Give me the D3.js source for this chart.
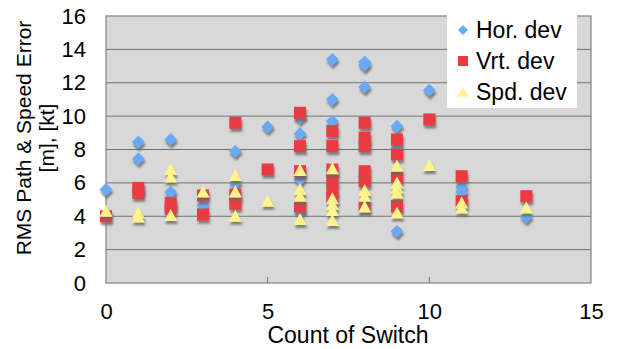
<!DOCTYPE html>
<html>
<head>
<meta charset="utf-8">
<script src="https://cdn.jsdelivr.net/npm/d3@7"></script>
<style>
    body { margin: 0; background: #fff; }
    text { font-family: "Liberation Sans", Arial, sans-serif; fill: #000; }
</style>
</head>
<body>
<div id="chart"></div>
<script>
// Hor. dev (diamonds)
const horX = [0, 1, 1, 2, 2, 3, 4, 4, 5, 6, 6, 6, 6, 7, 7, 7, 8, 8, 8, 9, 9, 9, 10, 11, 11, 13];
const horY = [5.6, 8.45, 7.45, 8.6, 5.45, 4.65, 7.9, 6.0, 9.35, 9.9, 8.95, 6.2, 4.3, 13.4, 11.0, 9.7, 13.25, 13.05, 11.75, 9.4, 8.1, 3.1, 11.55, 5.75, 5.45, 3.95];

// Vrt. dev (squares)
const vrtX = [0, 1, 1, 2, 2, 3, 3, 4, 4, 4, 5, 6, 6, 6, 6, 7, 7, 7, 7, 7, 7, 8, 8, 8, 8, 8, 8, 9, 9, 9, 9, 10, 11, 11, 13];
const vrtY = [4.0, 5.7, 5.4, 4.8, 4.45, 5.25, 4.1, 9.6, 5.3, 4.75, 6.8, 10.2, 8.2, 6.7, 4.6, 9.1, 8.2, 6.8, 6.2, 5.6, 5.1, 9.6, 8.7, 8.2, 6.7, 6.1, 4.6, 8.6, 7.7, 6.35, 4.6, 9.8, 6.4, 4.9, 5.2];

// Spd. dev (triangles)
const spdX = [0, 1, 1, 2, 2, 2, 3, 4, 4, 4, 5, 6, 6, 6, 6, 7, 7, 7, 7, 7, 8, 8, 8, 9, 9, 9, 9, 9, 10, 11, 11, 13];
const spdY = [4.3, 4.2, 3.95, 6.8, 6.35, 4.05, 5.45, 6.45, 5.45, 4.0, 4.9, 6.75, 5.6, 5.2, 3.8, 6.85, 5.05, 4.7, 4.35, 3.75, 5.55, 5.2, 4.55, 7.0, 6.0, 5.7, 5.4, 4.2, 7.05, 4.8, 4.5, 4.5];

const seriesNames = ["Hor. dev", "Vrt. dev", "Spd. dev"];
const seriesColors = ["#6aaaf4", "#e83a42", "#fff38c"];
const xTicks = [0, 5, 10, 15];
const yTicks = [0, 2, 4, 6, 8, 10, 12, 14, 16];

const width = 617;
const height = 349;
const plot = { left: 106, right: 591, top: 16, bottom: 283 };

const x = d3.scaleLinear().domain([0, 15]).range([plot.left, plot.right]);
const y = d3.scaleLinear().domain([0, 16]).range([plot.bottom, plot.top]);

const svg = d3.select("#chart")
    .append("svg")
    .attr("width", width)
    .attr("height", height);

// bóng đổ cho marker
const defs = svg.append("defs");
const shadow = defs.append("filter")
    .attr("id", "shadow")
    .attr("x", "-50%").attr("y", "-50%")
    .attr("width", "200%").attr("height", "200%");
shadow.append("feDropShadow")
    .attr("dx", 1)
    .attr("dy", 3)
    .attr("stdDeviation", 0.8)
    .attr("flood-color", "#666")
    .attr("flood-opacity", 0.8);

// nền vùng vẽ
svg.append("rect")
    .attr("x", plot.left)
    .attr("y", plot.top)
    .attr("width", plot.right - plot.left)
    .attr("height", plot.bottom - plot.top)
    .attr("fill", "#d8d8d8");

// lưới ngang
svg.append("g")
    .selectAll("line")
    .data(yTicks.filter(d => d > 0 && d < 16))
    .join("line")
    .attr("x1", plot.left)
    .attr("x2", plot.right)
    .attr("y1", d => y(d))
    .attr("y2", d => y(d))
    .attr("stroke", "#707070")
    .attr("stroke-width", 1);

// khung
svg.append("rect")
    .attr("x", plot.left)
    .attr("y", plot.top)
    .attr("width", plot.right - plot.left)
    .attr("height", plot.bottom - plot.top)
    .attr("fill", "none")
    .attr("stroke", "#8a8a8a")
    .attr("stroke-width", 1.3);

// vạch chia trục x (hướng vào trong)
svg.append("g")
    .selectAll("line")
    .data(xTicks.filter(d => d > 0 && d < 15))
    .join("line")
    .attr("x1", d => x(d))
    .attr("x2", d => x(d))
    .attr("y1", plot.bottom)
    .attr("y2", plot.bottom - 6)
    .attr("stroke", "#707070");

// trục y
const yAxis = svg.append("g")
    .attr("transform", `translate(${plot.left},0)`)
    .call(d3.axisLeft(y).tickValues(yTicks).tickSize(0).tickPadding(20));
yAxis.select(".domain").remove();
yAxis.selectAll("text")
    .style("font-size", "22px")
    .style("font-family", '"Liberation Sans", Arial, sans-serif')
    .attr("fill", "#000");

// trục x
const xAxis = svg.append("g")
    .attr("transform", `translate(0,${plot.bottom})`)
    .call(d3.axisBottom(x).tickValues(xTicks).tickSize(0).tickPadding(20));
xAxis.select(".domain").remove();
xAxis.selectAll("text")
    .style("font-size", "22px")
    .style("font-family", '"Liberation Sans", Arial, sans-serif')
    .attr("fill", "#000");

// tiêu đề trục
svg.append("text")
    .attr("x", (plot.left + plot.right) / 2 - 0.5)
    .attr("y", 343)
    .attr("text-anchor", "middle")
    .style("font-size", "23px")
    .text("Count of Switch");

svg.append("text")
    .attr("transform", "translate(31,138) rotate(-90)")
    .attr("text-anchor", "middle")
    .style("font-size", "21px")
    .text("RMS Path & Speed Error");

svg.append("text")
    .attr("transform", "translate(54,138) rotate(-90)")
    .attr("text-anchor", "middle")
    .style("font-size", "21px")
    .text("[m], [kt]");

// hình dạng marker
const diamond = s => `M0,${-s}L${s},0L0,${s}L${-s},0Z`;
const square = s => `M${-s},${-s}H${s}V${s}H${-s}Z`;
const triangle = s => `M0,${-s}L${s},${s * 0.85}L${-s},${s * 0.85}Z`;
const shapes = [diamond, square, triangle];

const series = [
    { xs: horX, ys: horY },
    { xs: vrtX, ys: vrtY },
    { xs: spdX, ys: spdY }
];
const sizes = [6.5, 6, 6.5];

series.forEach((s, i) => {
    const pts = s.xs.map((v, k) => ({ x: v, y: s.ys[k] }));
    svg.append("g")
        .selectAll("path")
        .data(pts)
        .join("path")
        .attr("transform", d => `translate(${x(d.x)},${y(d.y)})`)
        .attr("d", shapes[i](sizes[i]))
        .attr("fill", seriesColors[i])
        .attr("filter", "url(#shadow)");
});

// chú thích
const legend = svg.append("g");
legend.append("rect")
    .attr("x", 447)
    .attr("y", 13)
    .attr("width", 130)
    .attr("height", 95)
    .attr("fill", "#fff");

const legendSizes = [5, 5, 5.5];
seriesNames.forEach((name, i) => {
    const cy = 30 + i * 31;
    legend.append("path")
        .attr("transform", `translate(463,${cy})`)
        .attr("d", shapes[i](legendSizes[i]))
        .attr("fill", seriesColors[i]);
    legend.append("text")
        .attr("x", 476)
        .attr("y", cy)
        .attr("dy", "0.36em")
        .style("font-size", "23px")
        .text(name);
});
</script>
</body>
</html>
